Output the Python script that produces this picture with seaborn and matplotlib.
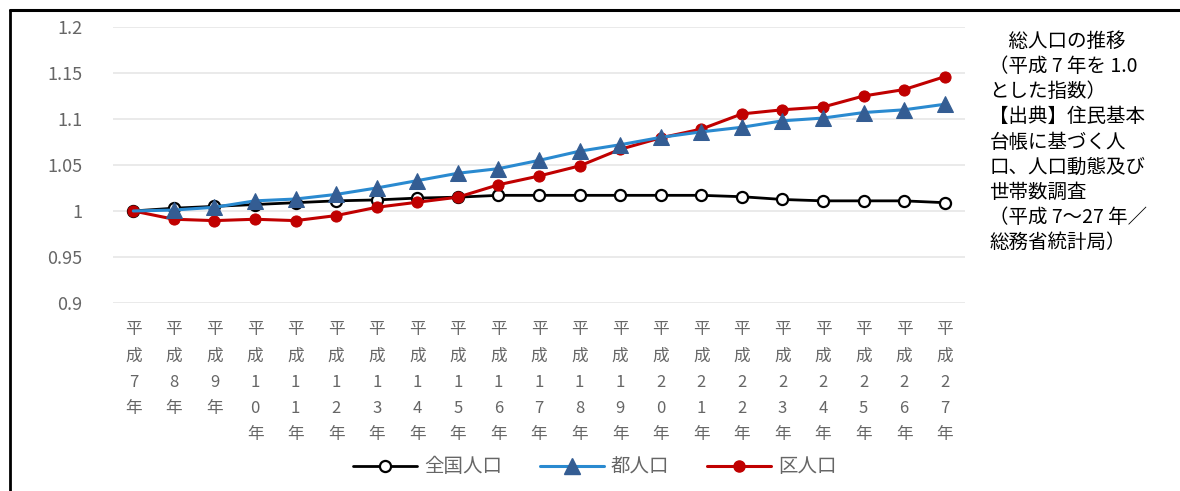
import matplotlib
matplotlib.use("Agg")
import matplotlib.pyplot as plt
import seaborn as sns
from matplotlib.lines import Line2D

sns.set_style("white")
plt.rcParams['font.family'] = ['Noto Sans CJK JP', 'DejaVu Sans']

# 平成7年〜27年
years = list(range(7, 28))
tick_labels = ["平\n成\n" + "\n".join(str(y)) + "\n年" for y in years]

zenkoku = [1.000, 1.003, 1.005, 1.007, 1.009, 1.011, 1.012, 1.014, 1.015, 1.017, 1.017,
           1.017, 1.017, 1.017, 1.017, 1.0155, 1.0125, 1.011, 1.011, 1.011, 1.009]
to_pop = [1.000, 1.001, 1.004, 1.011, 1.013, 1.018, 1.025, 1.033, 1.041, 1.046, 1.055,
          1.065, 1.072, 1.080, 1.086, 1.091, 1.098, 1.101, 1.107, 1.110, 1.116]
ku_pop = [1.000, 0.991, 0.9895, 0.991, 0.9895, 0.995, 1.004, 1.0095, 1.015, 1.0285, 1.038,
          1.049, 1.067, 1.0795, 1.089, 1.1055, 1.110, 1.113, 1.125, 1.132, 1.146]
series_names = ["全国人口", "都人口", "区人口"]

note = ("　総人口の推移\n（平成 7 年を 1.0\nとした指数）\n【出典】住民基本\n台帳に基づく人\n"
        "口、人口動態及び\n世帯数調査\n（平成 7～27 年／\n総務省統計局）")

fig = plt.figure(figsize=(11.8, 4.91), dpi=100)
ax = fig.add_axes([0.0958, 0.383, 0.722, 0.562])

x = list(range(len(years)))
sns.lineplot(x=x, y=zenkoku, ax=ax, color="black", linewidth=2, marker="o", markersize=8,
             markerfacecolor="white", markeredgecolor="black", markeredgewidth=1.6, zorder=3)
sns.lineplot(x=x, y=ku_pop, ax=ax, color="#C00000", linewidth=2.2, marker="o", markersize=8,
             markerfacecolor="#C00000", markeredgecolor="#C00000", zorder=4)
sns.lineplot(x=x, y=to_pop, ax=ax, color="#2A8AD0", linewidth=2.2, marker="^", markersize=12,
             markerfacecolor="#345D93", markeredgecolor="#345D93", markevery=list(range(1, len(years))),
             zorder=5)

ax.set_xlim(-0.5, len(years) - 0.5)
ax.set_ylim(0.9, 1.2)
ax.set_yticks([0.9, 0.95, 1.0, 1.05, 1.1, 1.15, 1.2])
ax.set_yticklabels(["0.9", "0.95", "1", "1.05", "1.1", "1.15", "1.2"], color="#666666", fontsize=13)
ax.set_xticks(x)
ax.set_xticklabels(tick_labels, color="#666666", fontsize=12, linespacing=1.72, va="top")
ax.tick_params(axis="x", length=0, pad=13)
ax.tick_params(axis="y", length=0, pad=22)
ax.grid(axis="y", color="#E6E6E6", linewidth=1.2)
ax.grid(axis="x", visible=False)
for s in ax.spines.values():
    s.set_visible(False)

handles = [
    Line2D([], [], color="black", linewidth=2, marker="o", markersize=8,
           markerfacecolor="white", markeredgecolor="black", markeredgewidth=1.6),
    Line2D([], [], color="#2A8AD0", linewidth=2.2, marker="^", markersize=12,
           markerfacecolor="#345D93", markeredgecolor="#345D93"),
    Line2D([], [], color="#C00000", linewidth=2.2, marker="o", markersize=8,
           markerfacecolor="#C00000", markeredgecolor="#C00000"),
]
leg = fig.legend(handles, series_names, loc="center", bbox_to_anchor=(0.504, 0.049), ncol=3,
                 frameon=False, fontsize=14, handlelength=3.3, columnspacing=1.95, handletextpad=0.35)
for t in leg.get_texts():
    t.set_color("#666666")

fig.text(0.8385, 0.937, note, ha="left", va="top", fontsize=14, linespacing=1.26, color="black")

# 外枠（左と上）
fig.add_artist(Line2D([0.0085, 0.0085], [0, 0.98], color="black", linewidth=2, transform=fig.transFigure))
fig.add_artist(Line2D([0.0085, 1.0], [0.98, 0.98], color="black", linewidth=2.2, transform=fig.transFigure))

fig.savefig("out.png", dpi=100)
